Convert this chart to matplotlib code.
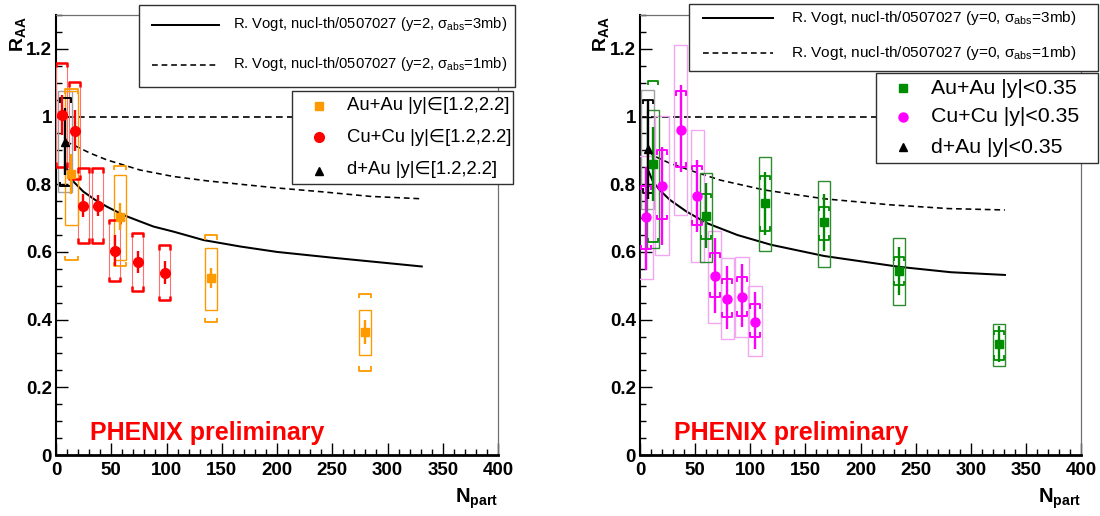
import matplotlib
matplotlib.use('Agg')
import matplotlib.pyplot as plt
from matplotlib.patches import Rectangle
from matplotlib.lines import Line2D

plt.rcParams['font.family'] = ['Liberation Sans', 'DejaVu Sans']
plt.rcParams['mathtext.fontset'] = 'custom'
plt.rcParams['mathtext.rm'] = 'Liberation Sans'
plt.rcParams['mathtext.it'] = 'Liberation Sans:italic'
plt.rcParams['mathtext.bf'] = 'Liberation Sans:bold'

# ---------------- data: left panel (forward rapidity) ----------------
auau_fwd_npart = [14, 58, 140, 280]
auau_fwd_raa = [0.83, 0.704, 0.522, 0.364]
auau_fwd_stat = [0.06, 0.04, 0.03, 0.035]
auau_fwd_box_lo = [0.68, 0.576, 0.427, 0.296]
auau_fwd_box_hi = [1.075, 0.828, 0.611, 0.428]
auau_fwd_brk_lo = [0.576, 0.557, 0.393, 0.249]
auau_fwd_brk_hi = [1.08, 0.854, 0.649, 0.477]

cucu_fwd_npart = [5.1, 16.9, 24.7, 37.7, 53.0, 73.8, 98.2]
cucu_fwd_raa = [1.005, 0.958, 0.737, 0.737, 0.604, 0.571, 0.539]
cucu_fwd_stat = [0.06, 0.06, 0.035, 0.03, 0.045, 0.032, 0.033]
cucu_fwd_syst = [0.153, 0.143, 0.11, 0.11, 0.091, 0.085, 0.081]

dau_fwd_npart = [8.2]
dau_fwd_raa = [0.926]
dau_fwd_stat = [0.10]
dau_fwd_brk_lo = [0.795]
dau_fwd_brk_hi = [1.054]
dau_fwd_box_lo = [0.778]
dau_fwd_box_hi = [1.074]

vogt_y2_3mb_npart = [8.2, 15.7, 24.8, 35.3, 45.9, 61.0, 76.1, 88.2, 106.3, 133.5, 166.8, 200, 250, 300, 331]
vogt_y2_3mb_raa = [0.857, 0.808, 0.778, 0.754, 0.734, 0.709, 0.690, 0.675, 0.660, 0.635, 0.616, 0.600, 0.583, 0.567, 0.557]
vogt_y2_1mb_npart = [9, 15.7, 30.8, 45.9, 61, 76, 106, 136.6, 166.8, 200, 239.5, 284.8, 331]
vogt_y2_1mb_raa = [0.926, 0.916, 0.892, 0.872, 0.857, 0.842, 0.823, 0.810, 0.800, 0.789, 0.778, 0.764, 0.757]

# ---------------- data: right panel (mid rapidity) ----------------
auau_mid_npart = [12, 59.8, 113.6, 167.2, 235.2, 325.9]
auau_mid_raa = [0.859, 0.707, 0.744, 0.687, 0.544, 0.328]
auau_mid_stat = [0.11, 0.096, 0.093, 0.083, 0.07, 0.054]
auau_mid_brk_lo = [0.628, 0.638, 0.663, 0.636, 0.502, 0.281]
auau_mid_brk_hi = [1.106, 0.771, 0.825, 0.734, 0.586, 0.367]
auau_mid_box_lo = [0.611, 0.571, 0.603, 0.555, 0.443, 0.264]
auau_mid_box_hi = [1.018, 0.834, 0.879, 0.810, 0.642, 0.386]

cucu_mid_npart = [5.5, 19.9, 36.8, 52.1, 67.8, 79.1, 92.6, 104.3]
cucu_mid_raa = [0.704, 0.796, 0.961, 0.765, 0.529, 0.461, 0.468, 0.394]
cucu_mid_stat_lo = [0.547, 0.62, 0.837, 0.66, 0.419, 0.371, 0.379, 0.312]
cucu_mid_stat_hi = [0.85, 0.91, 1.094, 0.872, 0.64, 0.557, 0.565, 0.483]
cucu_mid_brk_lo = [0.608, 0.697, 0.852, 0.68, 0.468, 0.409, 0.411, 0.35]
cucu_mid_brk_hi = [0.796, 0.90, 1.074, 0.854, 0.596, 0.519, 0.525, 0.445]
cucu_mid_box_lo = [0.519, 0.591, 0.71, 0.569, 0.389, 0.342, 0.348, 0.293]
cucu_mid_box_hi = [0.882, 1.003, 1.21, 0.961, 0.663, 0.582, 0.586, 0.498]

dau_mid_npart = [7.0]
dau_mid_raa = [0.903]
dau_mid_stat_lo = [0.755]
dau_mid_stat_hi = [1.05]
dau_mid_brk_lo = [0.775]
dau_mid_brk_hi = [1.049]
dau_mid_box_lo = [0.726]
dau_mid_box_hi = [1.077]

vogt_y0_3mb_npart = [8, 11.7, 17.8, 27, 42.3, 60.7, 88.3, 119, 167, 235, 282, 331]
vogt_y0_3mb_raa = [0.837, 0.808, 0.783, 0.754, 0.719, 0.685, 0.650, 0.621, 0.588, 0.556, 0.540, 0.532]
vogt_y0_1mb_npart = [8, 11.7, 27, 49.3, 73, 112.7, 167, 227.7, 280, 331]
vogt_y0_1mb_raa = [0.90, 0.885, 0.862, 0.837, 0.812, 0.783, 0.757, 0.739, 0.728, 0.724]

# ---------------- text ----------------
x_ticks = [0, 50, 100, 150, 200, 250, 300, 350, 400]
x_tick_labels = ['0', '50', '100', '150', '200', '250', '300', '350', '400']
y_ticks = [0, 0.2, 0.4, 0.6, 0.8, 1.0, 1.2]
y_tick_labels = ['0', '0.2', '0.4', '0.6', '0.8', '1', '1.2']
left_theory_labels = [r'R. Vogt, nucl-th/0507027 (y=2, σ$_{\rm abs}$=3mb)',
                      r'R. Vogt, nucl-th/0507027 (y=2, σ$_{\rm abs}$=1mb)']
left_data_labels = ['Au+Au |y|∈[1.2,2.2]', 'Cu+Cu |y|∈[1.2,2.2]', 'd+Au |y|∈[1.2,2.2]']
right_theory_labels = [r'R. Vogt, nucl-th/0507027 (y=0, σ$_{\rm abs}$=3mb)',
                       r'R. Vogt, nucl-th/0507027 (y=0, σ$_{\rm abs}$=1mb)']
right_data_labels = ['Au+Au |y|<0.35', 'Cu+Cu |y|<0.35', 'd+Au |y|<0.35']
watermark = 'PHENIX preliminary'

ORANGE = '#FF9900'
RED = '#FF0000'
GREEN = '#008C00'
MAGENTA = '#FF00FF'

W, H = 1100, 516
fig = plt.figure(figsize=(11, 5.16), dpi=100)


def fx(px):
    return px / W


def fy(py):
    return 1 - py / H


axL = fig.add_axes([fx(56), fy(455), fx(498) - fx(56), fy(15) - fy(455)])
axR = fig.add_axes([fx(640), fy(455), fx(1081) - fx(640), fy(15) - fy(455)])


def style_axes(ax):
    ax.set_xlim(0, 400)
    ax.set_ylim(0, 1.3)
    ax.set_xticks(x_ticks)
    ax.set_xticklabels(x_tick_labels, fontweight='bold')
    ax.set_xticks(list(range(0, 401, 10)), minor=True)
    ax.set_yticks(y_ticks)
    ax.set_yticklabels(y_tick_labels, fontweight='bold')
    ax.set_yticks([i * 0.05 for i in range(27)], minor=True)
    ax.tick_params(which='both', direction='in', top=False, right=False,
                   width=1.0, color='black')
    ax.tick_params(which='major', length=8.5)
    ax.tick_params(which='minor', length=4.3)
    ax.tick_params(axis='x', pad=5, labelsize=13.5)
    ax.tick_params(axis='y', pad=3, labelsize=13.5)
    ax.spines['left'].set_linewidth(1.5)
    ax.spines['bottom'].set_linewidth(2.0)
    for s in ('top', 'right'):
        ax.spines[s].set_linewidth(0.9)
        ax.spines[s].set_color('#707070')
    ax.axhline(1.0, color='black', lw=1.2, ls=(0, (4, 2.6)), zorder=1)
    ax.text(31, 0.045, watermark, color=RED, fontsize=18, fontweight='bold',
            va='baseline', ha='left', zorder=6)


def draw_boxes(ax, npart, lo, hi, hw, color, lw):
    for n, a, b in zip(npart, lo, hi):
        ax.add_patch(Rectangle((n - hw, a), 2 * hw, b - a, fill=False,
                               ec=color, lw=lw, zorder=3))


def draw_brackets(ax, npart, lo, hi, hw, color, lw, tick=0.013):
    for n, a, b in zip(npart, lo, hi):
        ax.plot([n - hw, n - hw, n + hw, n + hw], [b - tick, b, b, b - tick],
                color=color, lw=lw, solid_capstyle='butt', zorder=4)
        ax.plot([n - hw, n - hw, n + hw, n + hw], [a + tick, a, a, a + tick],
                color=color, lw=lw, solid_capstyle='butt', zorder=4)


def draw_points(ax, npart, raa, lo, hi, marker, ms, color):
    yerr = [[r - l for r, l in zip(raa, lo)], [h - r for r, h in zip(raa, hi)]]
    ax.errorbar(npart, raa, yerr=yerr, fmt=marker, ms=ms, color=color, mec=color,
                elinewidth=1.7, capsize=0, zorder=5)


style_axes(axL)
style_axes(axR)

# ---- left panel ----
axL.plot(vogt_y2_3mb_npart, vogt_y2_3mb_raa, color='black', lw=1.45, zorder=2)
axL.plot(vogt_y2_1mb_npart, vogt_y2_1mb_raa, color='black', lw=1.15,
         ls=(0, (3.6, 2.4)), zorder=2)

draw_boxes(axL, dau_fwd_npart, dau_fwd_box_lo, dau_fwd_box_hi, 6, '#A0A0A0', 1.0)
draw_brackets(axL, dau_fwd_npart, dau_fwd_brk_lo, dau_fwd_brk_hi, 5, 'black', 1.4)

cu_lo = [r - s for r, s in zip(cucu_fwd_raa, cucu_fwd_syst)]
cu_hi = [r + s for r, s in zip(cucu_fwd_raa, cucu_fwd_syst)]
draw_boxes(axL, cucu_fwd_npart, cu_lo, cu_hi, 5, '#FF7070', 0.8)
draw_brackets(axL, cucu_fwd_npart, cu_lo, cu_hi, 5, RED, 1.8)
draw_points(axL, cucu_fwd_npart, cucu_fwd_raa,
            [r - s for r, s in zip(cucu_fwd_raa, cucu_fwd_stat)],
            [r + s for r, s in zip(cucu_fwd_raa, cucu_fwd_stat)], 'o', 7, RED)

draw_boxes(axL, auau_fwd_npart, auau_fwd_box_lo, auau_fwd_box_hi, 5.5, ORANGE, 1.0)
draw_brackets(axL, auau_fwd_npart, auau_fwd_brk_lo, auau_fwd_brk_hi, 5.5, ORANGE, 1.3)
draw_points(axL, auau_fwd_npart, auau_fwd_raa,
            [r - s for r, s in zip(auau_fwd_raa, auau_fwd_stat)],
            [r + s for r, s in zip(auau_fwd_raa, auau_fwd_stat)], 's', 6, ORANGE)

draw_points(axL, dau_fwd_npart, dau_fwd_raa,
            [r - s for r, s in zip(dau_fwd_raa, dau_fwd_stat)],
            [r + s for r, s in zip(dau_fwd_raa, dau_fwd_stat)], '^', 5.5, 'black')

# ---- right panel ----
axR.plot(vogt_y0_3mb_npart, vogt_y0_3mb_raa, color='black', lw=1.45, zorder=2)
axR.plot(vogt_y0_1mb_npart, vogt_y0_1mb_raa, color='black', lw=1.15,
         ls=(0, (3.6, 2.4)), zorder=2)

draw_boxes(axR, dau_mid_npart, dau_mid_box_lo, dau_mid_box_hi, 6, '#A0A0A0', 1.0)
draw_brackets(axR, dau_mid_npart, dau_mid_brk_lo, dau_mid_brk_hi, 4.5, 'black', 1.3)

draw_boxes(axR, cucu_mid_npart, cucu_mid_box_lo, cucu_mid_box_hi, 6, '#F2A6F2', 1.0)
draw_brackets(axR, cucu_mid_npart, cucu_mid_brk_lo, cucu_mid_brk_hi, 4.5, MAGENTA, 1.4)
draw_points(axR, cucu_mid_npart, cucu_mid_raa, cucu_mid_stat_lo, cucu_mid_stat_hi,
            'o', 6.5, MAGENTA)

draw_boxes(axR, auau_mid_npart, auau_mid_box_lo, auau_mid_box_hi, 5.5, '#2E8B2E', 1.0)
draw_brackets(axR, auau_mid_npart, auau_mid_brk_lo, auau_mid_brk_hi, 4.5, GREEN, 1.3)
draw_points(axR, auau_mid_npart, auau_mid_raa,
            [r - s for r, s in zip(auau_mid_raa, auau_mid_stat)],
            [r + s for r, s in zip(auau_mid_raa, auau_mid_stat)], 's', 6, GREEN)

draw_points(axR, dau_mid_npart, dau_mid_raa, dau_mid_stat_lo, dau_mid_stat_hi,
            '^', 5.5, 'black')

# ---- axis titles ----
for xpx in (18, 601):
    fig.text(fx(xpx), fy(16), r'R$_{\mathbf{AA}}$', rotation=90, ha='center', va='top',
             fontsize=14, fontweight='bold')
for xpx in (498, 1081):
    fig.text(fx(xpx), fy(503), r'N$_{\mathbf{part}}$', ha='right', va='baseline',
             fontsize=14.5, fontweight='bold')


# ---- legends (drawn in figure pixel coordinates) ----
def legend_box(x0, y0, x1, y1):
    fig.add_artist(Rectangle((fx(x0), fy(y1)), fx(x1) - fx(x0), fy(y0) - fy(y1),
                             transform=fig.transFigure, fc='white', ec='#303030',
                             lw=1.0, zorder=10))


def legend_line(x0, x1, ypx, style, lw):
    fig.add_artist(Line2D([fx(x0), fx(x1)], [fy(ypx), fy(ypx)], transform=fig.transFigure,
                          color='black', ls=style, lw=lw, zorder=11))


def legend_marker(xpx, ypx, marker, ms, color):
    fig.add_artist(Line2D([fx(xpx)], [fy(ypx)], transform=fig.transFigure, marker=marker,
                          ms=ms, color=color, mec=color, ls='none', zorder=11))


def legend_text(xpx, ypx, s, size):
    fig.text(fx(xpx), fy(ypx), s, ha='left', va='center', fontsize=size, zorder=11)


# left theory legend
legend_box(139, 5, 515, 87)
legend_line(152, 219, 25, '-', 1.45)
legend_line(152, 219, 65, (0, (3.6, 2.4)), 1.15)
legend_text(233, 24, left_theory_labels[0], 10.6)
legend_text(233, 64, left_theory_labels[1], 10.6)

# left data legend
legend_box(292, 91, 513, 184)
legend_marker(319, 106, 's', 6, ORANGE)
legend_marker(319, 137, 'o', 7, RED)
legend_marker(319, 171, '^', 5.5, 'black')
for yy, lab in zip((106, 137, 170), left_data_labels):
    legend_text(347, yy, lab, 13.3)

# right theory legend
legend_box(689, 4, 1098, 71)
legend_line(703, 773, 18, '-', 1.45)
legend_line(703, 773, 53, (0, (3.6, 2.4)), 1.15)
legend_text(791, 18, right_theory_labels[0], 11.1)
legend_text(791, 53, right_theory_labels[1], 11.1)

# right data legend
legend_box(876, 73, 1098, 163)
legend_marker(903, 88, 's', 6, GREEN)
legend_marker(903, 117, 'o', 6.5, MAGENTA)
legend_marker(903, 147, '^', 5.5, 'black')
for yy, lab in zip((88, 117, 147), right_data_labels):
    legend_text(931, yy, lab, 15.3)

fig.savefig('out.png', dpi=100)
